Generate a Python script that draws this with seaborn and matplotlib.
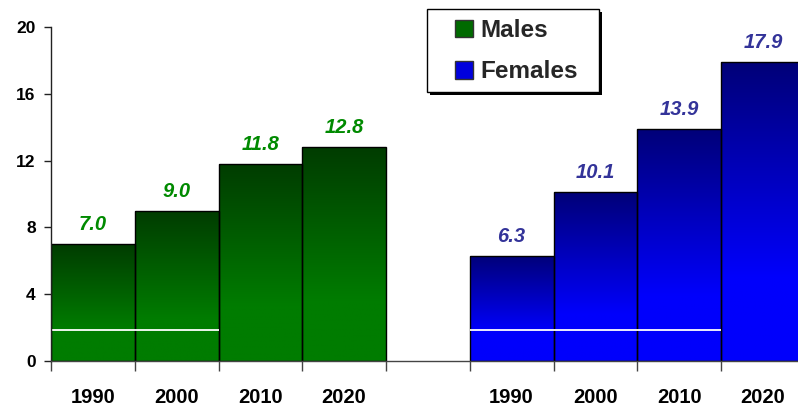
import numpy as np
import pandas as pd
import matplotlib
matplotlib.use("Agg")
import matplotlib.pyplot as plt
import seaborn as sns
from matplotlib.patches import Patch, Rectangle

# ---- data ----
years = ["1990", "2000", "2010", "2020"]
males = [7.0, 9.0, 11.8, 12.8]
females = [6.3, 10.1, 13.9, 17.9]
groups = ["Males", "Females"]
yticks = [0, 4, 8, 12, 16, 20]
white_line_level = 1.85

# ---- style ----
sns.set_theme(style="white")
plt.rcParams['font.family'] = ['Liberation Sans', 'DejaVu Sans']

male_pos = np.arange(len(years), dtype=float)
female_pos = male_pos + len(years) + 1
df = pd.DataFrame({
    "pos": np.concatenate([male_pos, female_pos]),
    "value": males + females,
    "group": [groups[0]] * len(males) + [groups[1]] * len(females),
})

grad = {
    "Males": (np.array([0, 60, 0]) / 255, np.array([0, 124, 0]) / 255),
    "Females": (np.array([0, 0, 120]) / 255, np.array([0, 0, 252]) / 255),
}
label_color = {"Males": "#008a00", "Females": "#333399"}
legend_color = {"Males": "#006a00", "Females": "#0000dd"}

W, H = 798, 407
fig = plt.figure(figsize=(W / 100, H / 100), dpi=100)
ax = fig.add_axes([51 / W, 46 / H, 1 - 51 / W, (361 - 27) / H])

sns.barplot(data=df, x="pos", y="value", hue="group", native_scale=True,
            dodge=False, width=1, palette=legend_color, saturation=1,
            edgecolor="black", linewidth=1.0, legend=False, ax=ax)

# gradient fills clipped to bars
n = 256
for p in list(ax.patches):
    x0, w, h = p.get_x(), p.get_width(), p.get_height()
    if h <= 0:
        continue
    g = groups[0] if x0 + w / 2 < len(years) else groups[1]
    top, bot = grad[g]
    t = np.linspace(0, 1, n)          # 0 bottom -> 1 top
    mix = np.clip((1 - t) / 0.72, 0, 1)  # 0 at top -> 1 below 72% depth
    cols = top[None, :] * (1 - mix[:, None]) + bot[None, :] * mix[:, None]
    img = cols[:, None, :]
    im = ax.imshow(img, extent=[x0, x0 + w, 0, h], origin="lower",
                   aspect="auto", zorder=1.5, interpolation="bilinear")
    im.set_clip_path(p)
    p.set_facecolor("none")
    p.set_zorder(2)
    ax.annotate(f"{h:.1f}", (x0 + w / 2, h), xytext=(0, 10),
                textcoords="offset points", ha="center", va="baseline",
                fontsize=14.5, fontweight="bold", fontstyle="italic",
                color=label_color[g], zorder=3)

# white horizontal line segments
ax.hlines(white_line_level, male_pos[0] - 0.5, male_pos[1] + 0.5,
          colors="white", linewidth=1.3, zorder=2.5)
ax.hlines(white_line_level, female_pos[0] - 0.5, female_pos[2] + 0.5,
          colors="white", linewidth=1.3, zorder=2.5)

ax.set_xlim(-0.5, -0.5 + (W - 51) / 83.75)
ax.set_ylim(0, 20)

# axes styling
for s in ["top", "right"]:
    ax.spines[s].set_visible(False)
ax.spines["left"].set_color("#222222")
ax.spines["bottom"].set_color("#444444")
ax.spines["left"].set_linewidth(1.0)
ax.spines["bottom"].set_linewidth(1.0)

ax.set_yticks(yticks)
ax.set_yticklabels([str(v) for v in yticks], fontsize=12.5, fontweight="bold")
ax.tick_params(axis="y", which="major", left=True, length=5, width=1,
               color="#222222", pad=6, labelcolor="black")

edges = list(male_pos - 0.5) + [male_pos[-1] + 0.5] + list(female_pos - 0.5)
ax.set_xticks(edges)
ax.set_xticklabels([])
ax.tick_params(axis="x", which="major", bottom=True, length=7, width=1,
               color="#444444")
ax.set_xticks(np.concatenate([male_pos, female_pos]), minor=True)
ax.set_xticklabels(years * 2, minor=True, fontsize=14.5, fontweight="bold")
ax.tick_params(axis="x", which="minor", length=0, pad=19.5, labelcolor="black")
ax.set_xlabel("")
ax.set_ylabel("")

# legend frame with shadow (figure pixels)
bx0, by0, bx1, by1 = 427, 9, 599, 92
fig.patches.append(Rectangle(((bx0 + 3) / W, 1 - (by1 + 3) / H),
                             (bx1 - bx0) / W, (by1 - by0) / H,
                             transform=fig.transFigure, facecolor="black",
                             edgecolor="none", zorder=4))
fig.patches.append(Rectangle((bx0 / W, 1 - by1 / H),
                             (bx1 - bx0) / W, (by1 - by0) / H,
                             transform=fig.transFigure, facecolor="white",
                             edgecolor="black", linewidth=1, zorder=5))
handles = [Patch(facecolor=legend_color[g], edgecolor="#333333", linewidth=1)
           for g in groups]
leg = fig.legend(handles, groups, loc="upper left",
                 bbox_to_anchor=(455 / W, 1 - 19 / H),
                 bbox_transform=fig.transFigure, frameon=False,
                 borderpad=0, borderaxespad=0,
                 handlelength=0.72, handleheight=0.75, handletextpad=0.32,
                 labelspacing=0.75,
                 prop={"size": 17.5, "weight": "bold"})
leg.set_zorder(6)

fig.savefig("out.png", dpi=100)
